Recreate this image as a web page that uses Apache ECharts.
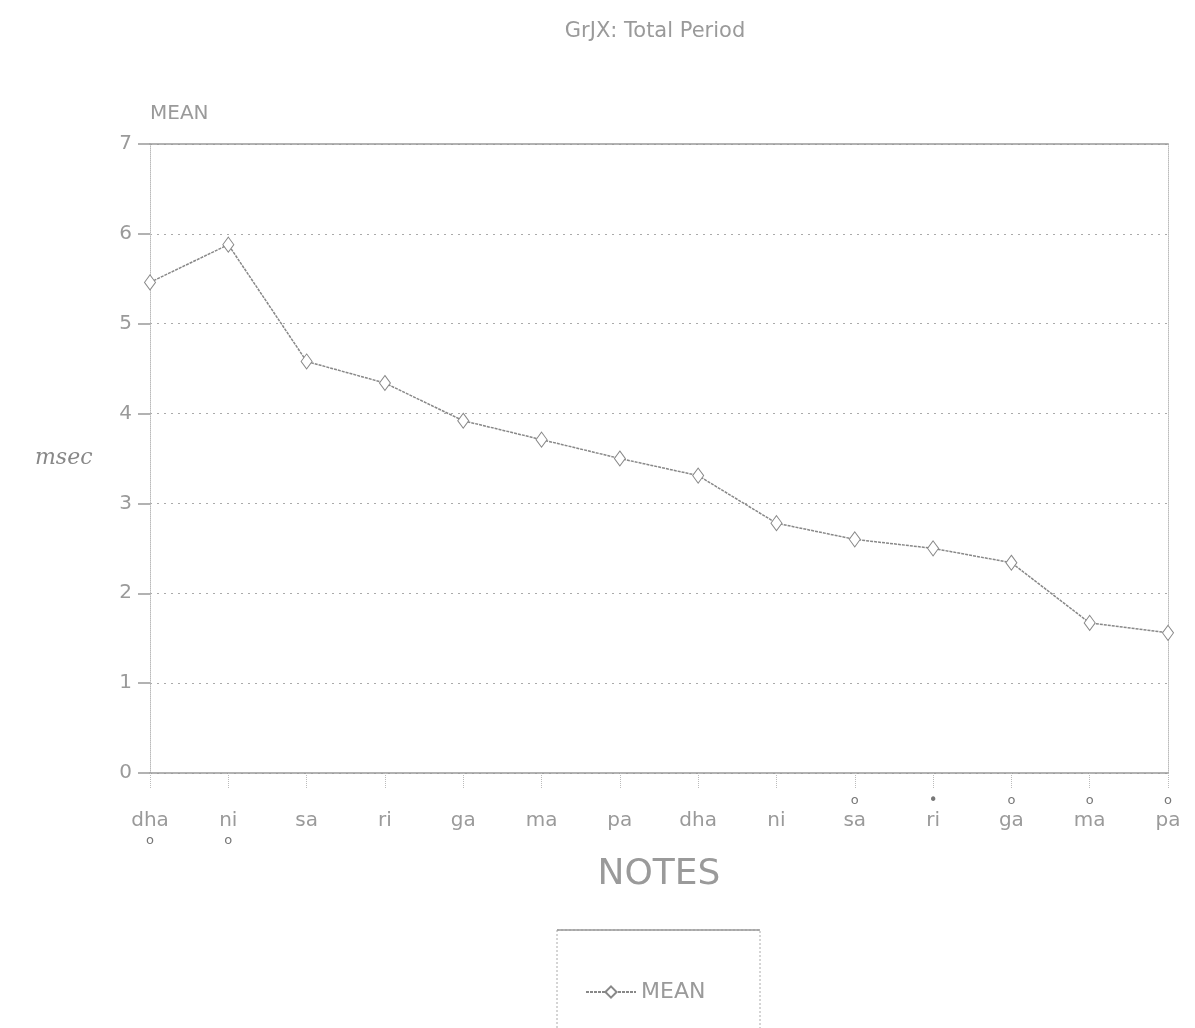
<!DOCTYPE html>
<html>
<head>
<meta charset="utf-8">
<script src="https://cdn.jsdelivr.net/npm/echarts@6/dist/echarts.min.js"></script>
<style>
html,body{margin:0;padding:0;background:#fff;}
#chart{width:1195px;height:1028px;}
</style>
</head>
<body>
<div id="chart"></div>
<script>
const notes = ['dha','ni','sa','ri','ga','ma','pa','dha','ni','sa','ri','ga','ma','pa'];
const octaveMarks = ['below','below','','','','','','','','above','aboveDot','above','above','above'];
const meanValues = [5.46, 5.88, 4.58, 4.34, 3.92, 3.71, 3.5, 3.31, 2.78, 2.6, 2.5, 2.34, 1.67, 1.56];
const yTicks = [0,1,2,3,4,5,6,7];

const gray = '#9a9a9a';
const font = 'DejaVu Sans';
const chart = echarts.init(document.getElementById('chart'));

chart.setOption({
  animation: false,
  backgroundColor: '#fff',
  title: {
    text: 'GrJX: Total Period',
    left: 650, top: 16, textAlign: 'center',
    textStyle: {color: gray, fontFamily: font, fontSize: 21, fontWeight: 'normal'}
  },
  grid: {left: 150, right: 27, top: 144, bottom: 255},
  legend: {
    data: ['MEAN'],
    left: 580, top: 976,
    itemWidth: 50, itemHeight: 14,
    textStyle: {color: gray, fontFamily: font, fontSize: 22}
  },
  graphic: [
    {type: 'rect', shape: {x: 557, y: 930, width: 203, height: 110},
     style: {fill: 'none', stroke: '#aaa', lineWidth: 1, lineDash: [2, 2]}},
    {type: 'line', shape: {x1: 557, y1: 930, x2: 760, y2: 930},
     style: {stroke: '#999', lineWidth: 1.5}},
    {type: 'text', left: 35, top: 447,
     style: {text: 'msec', fill: '#888', font: 'italic 22px "DejaVu Serif"'}}
  ],
  xAxis: [{
    type: 'category',
    data: notes,
    boundaryGap: false,
    name: 'NOTES',
    nameLocation: 'middle',
    nameGap: 84,
    nameTextStyle: {color: gray, fontFamily: font, fontSize: 36},
    axisLine: {onZero: false, lineStyle: {color: '#999', width: 1.5}},
    axisTick: {show: true, length: 16, lineStyle: {color: '#bbb', type: 'dotted'}},
    axisLabel: {
      margin: 20,
      interval: 0,
      formatter: function (v, i) {
        const m = octaveMarks[i];
        const top = m === 'above' ? '{m|o}' : (m === 'aboveDot' ? '{d|•}' : '{m| }');
        const bot = m === 'below' ? '{m|o}' : '{m| }';
        return top + '\n{n|' + v + '}\n' + bot;
      },
      rich: {
        n: {color: gray, fontFamily: font, fontSize: 20, lineHeight: 24},
        m: {color: '#777', fontFamily: font, fontSize: 13, lineHeight: 16},
        d: {color: '#777', fontFamily: font, fontSize: 15, lineHeight: 16}
      }
    },
    splitLine: {show: false}
  }, {
    type: 'category',
    data: notes,
    boundaryGap: false,
    position: 'top',
    axisLine: {show: true, onZero: false, lineStyle: {color: '#999', width: 1.5}},
    axisTick: {show: false},
    axisLabel: {show: false}
  }],
  yAxis: [{
    type: 'value',
    min: 0, max: 7, interval: 1,
    name: 'MEAN',
    nameLocation: 'end',
    nameGap: 20,
    nameTextStyle: {color: gray, fontFamily: font, fontSize: 20, align: 'left'},
    axisLine: {show: true, onZero: false, lineStyle: {color: '#bbb', type: 'dotted'}},
    axisTick: {show: true, length: 12, lineStyle: {color: '#999', width: 1.5}},
    axisLabel: {
      color: gray, fontFamily: font, fontSize: 20, margin: 18,
      formatter: function (v) { return yTicks.indexOf(v) >= 0 ? String(v) : ''; }
    },
    splitLine: {show: true, lineStyle: {color: '#aaa', type: [2, 5], width: 1.2}}
  }, {
    type: 'value',
    min: 0, max: 7, interval: 1,
    position: 'right',
    axisLine: {show: true, onZero: false, lineStyle: {color: '#bbb', type: 'dotted'}},
    axisTick: {show: false},
    axisLabel: {show: false},
    splitLine: {show: false}
  }],
  series: [{
    name: 'MEAN',
    type: 'line',
    data: meanValues,
    symbol: 'diamond',
    symbolSize: [11, 15],
    showSymbol: true,
    itemStyle: {color: '#fff', borderColor: '#888', borderWidth: 1},
    lineStyle: {color: '#888', width: 1.5, type: [3, 1]}
  }]
});
</script>
</body>
</html>
